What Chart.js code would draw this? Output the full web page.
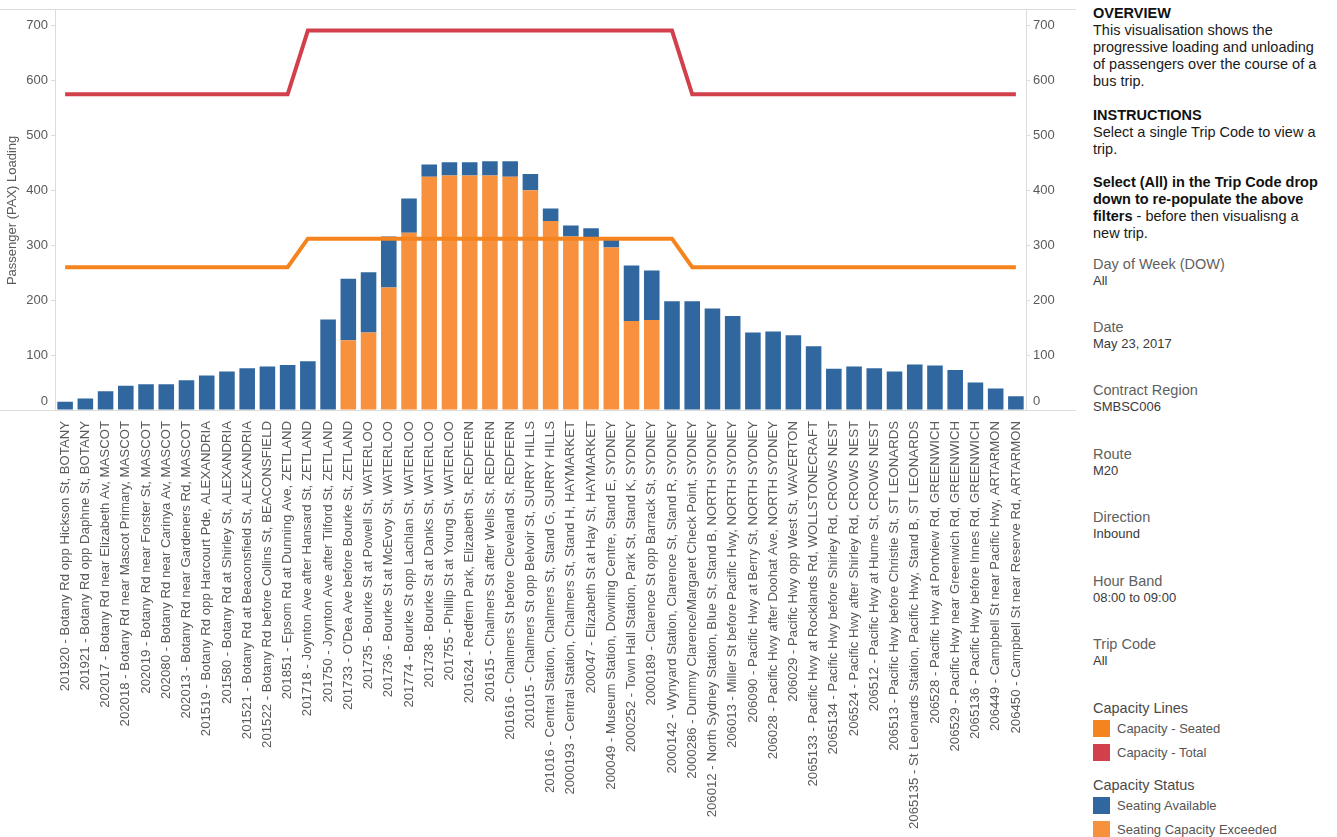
<!DOCTYPE html>
<html>
<head>
<meta charset="utf-8">
<script src="https://cdn.jsdelivr.net/npm/chart.js@4"></script>
<style>
  html, body { margin: 0; padding: 0; background: #ffffff; }
  body { width: 1337px; height: 837px; position: relative; overflow: hidden;
         font-family: "Liberation Sans", Arial, sans-serif; }
  #chartBox { position: absolute; left: 0; top: 0; width: 1080px; height: 837px; }
  #side { position: absolute; left: 1093px; top: 0; width: 244px; height: 837px; }
  .blk { position: absolute; left: 0; white-space: nowrap; }
  .txt { font-size: 14.5px; line-height: 17px; color: #1a1a1a; }
  .hd { font-weight: bold; color: #111; }
  .ft { font-size: 14.5px; line-height: 17px; color: #5f5f5f; }
  .fv { font-size: 13px; line-height: 16px; color: #3a3a3a; }
  .lh { font-size: 14.5px; line-height: 17px; color: #4a4a4a; }
  .li { font-size: 13px; line-height: 17px; color: #555; position: absolute; left: 24px; white-space: nowrap; }
  .sw { position: absolute; left: 0; width: 17px; height: 17px; }
</style>
</head>
<body>
<div id="chartBox"><canvas id="paxChart" width="1080" height="837"></canvas></div>

<div id="side">
  <div class="blk txt" style="top:5px;">
    <span class="hd">OVERVIEW</span><br>
    This visualisation shows the<br>
    progressive loading and unloading<br>
    of passengers over the course of a<br>
    bus trip.
  </div>
  <div class="blk txt" style="top:107px;">
    <span class="hd">INSTRUCTIONS</span><br>
    Select a single Trip Code to view a<br>
    trip.
  </div>
  <div class="blk txt" style="top:174px;">
    <span class="hd">Select (All) in the Trip Code drop<br>
    down to re-populate the above<br>
    filters</span> - before then visualisng a<br>
    new trip.
  </div>

  <div class="blk" style="top:256px;"><div class="ft">Day of Week (DOW)</div><div class="fv">All</div></div>
  <div class="blk" style="top:319px;"><div class="ft">Date</div><div class="fv">May 23, 2017</div></div>
  <div class="blk" style="top:382px;"><div class="ft">Contract Region</div><div class="fv">SMBSC006</div></div>
  <div class="blk" style="top:446px;"><div class="ft">Route</div><div class="fv">M20</div></div>
  <div class="blk" style="top:509px;"><div class="ft">Direction</div><div class="fv">Inbound</div></div>
  <div class="blk" style="top:573px;"><div class="ft">Hour Band</div><div class="fv">08:00 to 09:00</div></div>
  <div class="blk" style="top:636px;"><div class="ft">Trip Code</div><div class="fv">All</div></div>

  <div class="blk lh" style="top:700px;">Capacity Lines</div>
  <div class="blk" style="top:720px; width:240px; height:20px;">
    <div class="sw" id="swSeated"></div><div class="li">Capacity - Seated</div>
  </div>
  <div class="blk" style="top:744px; width:240px; height:20px;">
    <div class="sw" id="swTotal"></div><div class="li">Capacity - Total</div>
  </div>
  <div class="blk lh" style="top:777px;">Capacity Status</div>
  <div class="blk" style="top:797px; width:240px; height:20px;">
    <div class="sw" id="swAvail"></div><div class="li">Seating Available</div>
  </div>
  <div class="blk" style="top:821px; width:240px; height:20px;">
    <div class="sw" id="swExceed"></div><div class="li">Seating Capacity Exceeded</div>
  </div>
</div>

<script>
// Stops along the M20 inbound trip, in running order
const stopLabels = [
  "201920 - Botany Rd opp Hickson St, BOTANY",
  "201921 - Botany Rd opp Daphne St, BOTANY",
  "202017 - Botany Rd near Elizabeth Av, MASCOT",
  "202018 - Botany Rd near Mascot Primary, MASCOT",
  "202019 - Botany Rd near Forster St, MASCOT",
  "202080 - Botany Rd near Carinya Av, MASCOT",
  "202013 - Botany Rd near Gardeners Rd, MASCOT",
  "201519 - Botany Rd opp Harcourt Pde, ALEXANDRIA",
  "201580 - Botany Rd at Shirley St, ALEXANDRIA",
  "201521 - Botany Rd at Beaconsfield St, ALEXANDRIA",
  "201522 - Botany Rd before Collins St, BEACONSFIELD",
  "201851 - Epsom Rd at Dunning Ave, ZETLAND",
  "201718 - Joynton Ave after Hansard St, ZETLAND",
  "201750 - Joynton Ave after Tilford St, ZETLAND",
  "201733 - O'Dea Ave before Bourke St, ZETLAND",
  "201735 - Bourke St at Powell St, WATERLOO",
  "201736 - Bourke St at McEvoy St, WATERLOO",
  "201774 - Bourke St opp Lachlan St, WATERLOO",
  "201738 - Bourke St at Danks St, WATERLOO",
  "201755 - Phillip St at Young St, WATERLOO",
  "201624 - Redfern Park, Elizabeth St, REDFERN",
  "201615 - Chalmers St after Wells St, REDFERN",
  "201616 - Chalmers St before Cleveland St, REDFERN",
  "201015 - Chalmers St opp Belvoir St, SURRY HILLS",
  "201016 - Central Station, Chalmers St, Stand G, SURRY HILLS",
  "2000193 - Central Station, Chalmers St, Stand H, HAYMARKET",
  "200047 - Elizabeth St at Hay St, HAYMARKET",
  "200049 - Museum Station, Downing Centre, Stand E, SYDNEY",
  "2000252 - Town Hall Station, Park St, Stand K, SYDNEY",
  "2000189 - Clarence St opp Barrack St, SYDNEY",
  "2000142 - Wynyard Station, Clarence St, Stand R, SYDNEY",
  "2000286 - Dummy Clarence/Margaret Check Point, SYDNEY",
  "206012 - North Sydney Station, Blue St, Stand B, NORTH SYDNEY",
  "206013 - Miller St before Pacific Hwy, NORTH SYDNEY",
  "206090 - Pacific Hwy at Berry St, NORTH SYDNEY",
  "206028 - Pacific Hwy after Doohat Ave, NORTH SYDNEY",
  "206029 - Pacific Hwy opp West St, WAVERTON",
  "2065133 - Pacific Hwy at Rocklands Rd, WOLLSTONECRAFT",
  "2065134 - Pacific Hwy before Shirley Rd, CROWS NEST",
  "206524 - Pacific Hwy after Shirley Rd, CROWS NEST",
  "206512 - Pacific Hwy at Hume St, CROWS NEST",
  "206513 - Pacific Hwy before Christie St, ST LEONARDS",
  "2065135 - St Leonards Station, Pacific Hwy, Stand B, ST LEONARDS",
  "206528 - Pacific Hwy at Portview Rd, GREENWICH",
  "206529 - Pacific Hwy near Greenwich Rd, GREENWICH",
  "2065136 - Pacific Hwy before Innes Rd, GREENWICH",
  "206449 - Campbell St near Pacific Hwy, ARTARMON",
  "206450 - Campbell St near Reserve Rd, ARTARMON"
];

// Total passengers on board after each stop
const paxLoading = [
  15, 21, 34, 44, 47, 47, 54, 63, 70, 76, 79, 82,
  89, 165, 239, 251, 316, 385, 447, 451, 451, 453, 453, 430,
  367, 336, 331, 313, 263, 254, 198, 198, 185, 171, 141, 143,
  136, 116, 75, 79, 76, 70, 83, 81, 73, 50, 39, 25
];

// Share of the load counted as "Seating Capacity Exceeded"
const exceededPax = [
  0, 0, 0, 0, 0, 0, 0, 0, 0, 0, 0, 0,
  0, 0, 127, 141, 223, 323, 425, 427, 427, 427, 425, 400,
  344, 316, 313, 296, 162, 164, 0, 0, 0, 0, 0, 0,
  0, 0, 0, 0, 0, 0, 0, 0, 0, 0, 0, 0
];

// Seated and total capacity of the buses serving each stop
const capacitySeated = [
  260, 260, 260, 260, 260, 260, 260, 260, 260, 260, 260, 260,
  312, 312, 312, 312, 312, 312, 312, 312, 312, 312, 312, 312,
  312, 312, 312, 312, 312, 312, 312, 260, 260, 260, 260, 260,
  260, 260, 260, 260, 260, 260, 260, 260, 260, 260, 260, 260
];
const capacityTotal = [
  575, 575, 575, 575, 575, 575, 575, 575, 575, 575, 575, 575,
  691, 691, 691, 691, 691, 691, 691, 691, 691, 691, 691, 691,
  691, 691, 691, 691, 691, 691, 691, 575, 575, 575, 575, 575,
  575, 575, 575, 575, 575, 575, 575, 575, 575, 575, 575, 575
];

const yTickValues = [0, 100, 200, 300, 400, 500, 600, 700];

// Remaining (blue) part of each bar
const availablePax = paxLoading.map((v, i) => v - exceededPax[i]);

const COLORS = {
  available: '#30679f',
  exceeded: '#f8913e',
  seatedLine: '#f5841f',
  totalLine: '#d1404b',
  axis: '#dcdcdc',
  text: '#5a5a5a'
};

document.getElementById('swSeated').style.background = COLORS.seatedLine;
document.getElementById('swTotal').style.background = COLORS.totalLine;
document.getElementById('swAvail').style.background = COLORS.available;
document.getElementById('swExceed').style.background = COLORS.exceeded;

const FONT = '"Liberation Sans", Arial, sans-serif';
const Y_MAX = 727;
const ZERO_LABEL_LIFT = 9;   // the "0" labels sit a little above the baseline

// Light frame lines: the zero baseline and the rule above the plot,
// plus the lifted "0" labels on both value axes
const frameLines = {
  id: 'frameLines',
  beforeDatasetsDraw(chart) {
    const c = chart.ctx;
    const y0 = Math.round(chart.scales.y.getPixelForValue(0)) + 0.5;
    c.save();
    c.strokeStyle = COLORS.axis;
    c.lineWidth = 1;
    c.beginPath();
    c.moveTo(0, y0);
    c.lineTo(chart.width - 4, y0);
    const yt = Math.round(chart.chartArea.top) - 1.5;
    c.moveTo(0, yt);
    c.lineTo(chart.width - 4, yt);
    c.stroke();

    c.fillStyle = COLORS.text;
    c.font = '13px ' + FONT;
    c.textBaseline = 'middle';
    const yl = chart.scales.y.getPixelForValue(0) - ZERO_LABEL_LIFT;
    c.textAlign = 'right';
    c.fillText('0', chart.scales.y.right - 7, yl);
    c.textAlign = 'left';
    c.fillText('0', chart.scales.y1.left + 7, yl);
    c.restore();
  }
};

function valueAxis(position, width) {
  return {
    position: position,
    stacked: true,
    min: 0,
    max: Y_MAX,
    afterBuildTicks(scale) {
      scale.ticks = yTickValues.map(v => ({ value: v }));
    },
    afterFit(scale) { scale.width = width; },
    grid: { drawOnChartArea: false, drawTicks: true, tickLength: 4, color: COLORS.axis },
    border: { display: true, color: COLORS.axis, width: 1 },
    ticks: {
      padding: 3,
      color: COLORS.text,
      font: { family: FONT, size: 13 },
      callback: (v) => (v === 0 ? '' : String(v))
    }
  };
}

const leftAxis = valueAxis('left', 55);
leftAxis.title = {
  display: true,
  text: 'Passenger (PAX) Loading',
  color: COLORS.text,
  font: { family: FONT, size: 13 },
  padding: { top: 5, bottom: 0 }
};
const rightAxis = valueAxis('right', 54);

new Chart(document.getElementById('paxChart'), {
  type: 'bar',
  data: {
    labels: stopLabels,
    datasets: [
      {
        type: 'line', label: 'Capacity - Total', data: capacityTotal,
        borderColor: COLORS.totalLine, borderWidth: 4, pointRadius: 0,
        tension: 0, stack: 'capTotal', order: 0, yAxisID: 'y',
        borderJoinStyle: 'miter'
      },
      {
        type: 'line', label: 'Capacity - Seated', data: capacitySeated,
        borderColor: COLORS.seatedLine, borderWidth: 4, pointRadius: 0,
        tension: 0, stack: 'capSeated', order: 0, yAxisID: 'y',
        borderJoinStyle: 'miter'
      },
      {
        label: 'Seating Capacity Exceeded', data: exceededPax,
        backgroundColor: COLORS.exceeded, stack: 'pax', order: 1,
        barPercentage: 0.77, categoryPercentage: 1.0, yAxisID: 'y'
      },
      {
        label: 'Seating Available', data: availablePax,
        backgroundColor: COLORS.available, stack: 'pax', order: 1,
        barPercentage: 0.77, categoryPercentage: 1.0, yAxisID: 'y'
      }
    ]
  },
  options: {
    responsive: false,
    animation: false,
    layout: { padding: { top: 10, left: 0, right: 0, bottom: 0 } },
    plugins: { legend: { display: false }, tooltip: { enabled: false }, title: { display: false } },
    scales: {
      x: {
        stacked: true,
        afterFit(scale) { scale.height = 427; },
        grid: { display: false },
        border: { display: false },
        ticks: {
          autoSkip: false,
          maxRotation: 90,
          minRotation: 90,
          padding: 3,
          color: COLORS.text,
          font: { family: FONT, size: 13.2 }
        }
      },
      y: leftAxis,
      y1: rightAxis
    }
  },
  plugins: [frameLines]
});
</script>
</body>
</html>
